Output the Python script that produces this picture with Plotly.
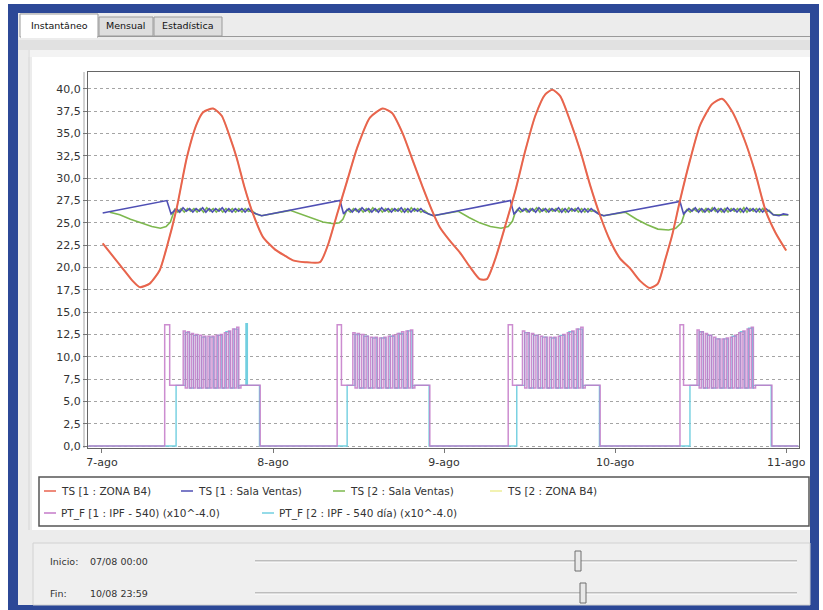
import numpy as np
import plotly.graph_objects as go

# ---------------- data ----------------
DAY_TICKS_H = [0, 24, 48, 72, 96]
DAY_LABELS = ["7-ago", "8-ago", "9-ago", "10-ago", "11-ago"]
Y_TICKS = [0.0, 2.5, 5.0, 7.5, 10.0, 12.5, 15.0, 17.5, 20.0, 22.5, 25.0, 27.5,
           30.0, 32.5, 35.0, 37.5, 40.0]
Y_LABELS = ["0,0", "2,5", "5,0", "7,5", "10,0", "12,5", "15,0", "17,5", "20,0",
            "22,5", "25,0", "27,5", "30,0", "32,5", "35,0", "37,5", "40,0"]

SERIES_NAMES = ["TS [1 : ZONA B4)", "TS [1 : Sala Ventas)", "TS [2 : Sala Ventas)",
                "TS [2 : ZONA B4)", "PT_F [1 : IPF - 540) (x10^-4.0)",
                "PT_F [2 : IPF - 540 día) (x10^-4.0)"]

# TS [1 : ZONA B4]  (hours from 7-ago 00:00)
RED_H = [0.1, 1.8, 3.0, 4.3, 5.3, 6.7, 8.1, 9.1, 10.5, 11.9, 13.3, 14.2, 15.6, 16.8,
         18.0, 18.9, 20.0, 21.2, 22.6, 24.3, 25.7, 26.8, 28.5, 30.6, 31.7, 33.0,
         34.4, 35.8, 37.6, 39.4, 40.7, 42.2, 43.6, 45.0, 46.3, 47.4, 48.8, 50.2,
         51.6, 53.0, 54.0, 55.2, 56.6, 58.0, 59.4, 60.8, 62.2, 63.2, 64.3, 65.7,
         67.1, 68.5, 69.9, 71.3, 72.7, 74.1, 75.5, 76.9, 78.0, 79.0, 80.0, 81.1,
         82.5, 83.9, 85.6, 87.0, 88.4, 90.2, 91.6, 93.1, 94.5, 96.0]
RED_V = [22.7, 21.0, 19.8, 18.5, 17.8, 18.2, 19.7, 22.3, 26.7, 32.3, 36.1, 37.4, 37.8, 37.0,
         34.5, 32.3, 29.0, 26.0, 23.4, 22.0, 21.3, 20.8, 20.6, 20.6, 22.5, 26.0,
         29.7, 33.4, 36.8, 37.8, 37.3, 35.0, 32.0, 29.0, 26.4, 24.5, 23.0, 21.7,
         20.1, 18.7, 18.7, 21.0, 24.7, 28.6, 33.1, 37.0, 39.4, 39.9, 39.2, 36.4,
         33.1, 29.2, 25.8, 23.0, 21.0, 19.9, 18.5, 17.7, 18.2, 20.8, 23.6, 27.5,
         32.0, 35.9, 38.3, 38.9, 37.5, 34.2, 30.8, 26.4, 23.9, 21.9]

# TS [1 : Sala Ventas]
BLUE_KNOT_H = [[0.1, 9.1, 9.7], [21.6, 22.4, 33.4, 33.9], [45.8, 46.5, 57.3, 57.8],
               [69.7, 70.4, 81.1, 81.6], [94.2, 95.0, 95.6, 96.3]]
BLUE_KNOT_V = [[26.1, 27.5, 26.0], [26.0, 25.8, 27.5, 26.0], [26.0, 25.8, 27.5, 26.0],
               [26.0, 25.8, 27.4, 26.0], [25.9, 25.8, 26.0, 25.9]]
BLUE_OSC_WIN = [(10.0, 21.0), (34.2, 45.2), (58.1, 69.1), (81.9, 93.6)]
BLUE_OSC = [
    [26.2, 26.6, 26.2, 26.7, 26.3, 26.6, 26.2, 26.6, 26.3, 26.7, 26.2, 26.6, 26.2,
     26.6, 26.3, 26.7, 26.2, 26.6, 26.2, 26.6, 26.3, 26.6, 26.2, 26.6, 26.2],
    [26.3, 26.6, 26.2, 26.6, 26.2, 26.7, 26.3, 26.6, 26.2, 26.6, 26.2, 26.7, 26.3,
     26.6, 26.2, 26.6, 26.3, 26.7, 26.2, 26.6, 26.2, 26.6, 26.3, 26.6, 26.2],
    [26.2, 26.7, 26.3, 26.6, 26.2, 26.6, 26.2, 26.7, 26.3, 26.6, 26.2, 26.6, 26.3,
     26.7, 26.2, 26.6, 26.2, 26.6, 26.3, 26.7, 26.2, 26.6, 26.2, 26.6, 26.3],
    [26.2, 26.6, 26.3, 26.7, 26.2, 26.6, 26.2, 26.6, 26.3, 26.7, 26.2, 26.6, 26.2,
     26.7, 26.3, 26.6, 26.2, 26.6, 26.2, 26.7, 26.3, 26.6, 26.2, 26.6, 26.2, 26.6, 26.3],
]

# TS [2 : Sala Ventas]
GREEN_KNOT_H = [[1.1, 2.5, 4.0, 5.5, 7.0, 8.2, 9.0, 9.6, 10.0],
                [21.6, 22.4, 26.4, 27.8, 29.5, 31.0, 32.5, 33.3, 33.8, 34.2],
                [45.8, 46.5, 50.0, 51.5, 53.0, 54.5, 56.0, 57.0, 57.6, 58.0],
                [69.7, 70.4, 73.4, 75.0, 76.5, 78.0, 79.5, 80.5, 81.3, 81.8],
                [94.2, 96.3]]
GREEN_KNOT_V = [[26.2, 25.9, 25.4, 25.0, 24.6, 24.4, 24.6, 25.1, 26.2],
                [26.0, 25.8, 26.4, 26.0, 25.5, 25.1, 24.9, 25.0, 25.4, 26.2],
                [26.0, 25.8, 26.3, 25.6, 25.0, 24.6, 24.4, 24.6, 25.2, 26.2],
                [26.0, 25.8, 26.2, 25.4, 24.8, 24.3, 24.2, 24.4, 25.0, 26.2],
                [25.9, 25.9]]
GREEN_OSC_WIN = [(10.2, 21.0), (34.4, 45.2), (58.3, 69.1), (82.1, 93.6)]
GREEN_OSC = [
    [26.5, 26.2, 26.6, 26.2, 26.6, 26.3, 26.6, 26.2, 26.6, 26.2, 26.7, 26.3, 26.6,
     26.2, 26.6, 26.2, 26.6, 26.3, 26.6, 26.2, 26.6, 26.2, 26.6, 26.3, 26.4],
    [26.5, 26.2, 26.6, 26.3, 26.6, 26.2, 26.6, 26.2, 26.7, 26.3, 26.6, 26.2, 26.6,
     26.2, 26.6, 26.3, 26.6, 26.2, 26.6, 26.2, 26.7, 26.3, 26.6, 26.2, 26.4],
    [26.5, 26.2, 26.6, 26.2, 26.6, 26.3, 26.7, 26.2, 26.6, 26.2, 26.6, 26.3, 26.6,
     26.2, 26.6, 26.2, 26.7, 26.3, 26.6, 26.2, 26.6, 26.2, 26.6, 26.3, 26.4],
    [26.5, 26.2, 26.6, 26.3, 26.6, 26.2, 26.6, 26.2, 26.7, 26.3, 26.6, 26.2, 26.6,
     26.2, 26.6, 26.3, 26.6, 26.2, 26.7, 26.2, 26.6, 26.3, 26.6, 26.2, 26.6, 26.2, 26.4],
]

# PT_F [1 : IPF - 540]  (x10^-4)
PT_START_H = -1.9
PT_END_H = 97.7
PT1_ON = [8.8, 33.0, 57.0, 81.1]
PT1_LEVEL_AT = [9.5, 33.6, 57.6, 81.6]
PT_SPIKE_WIN = [(11.4, 19.2), (35.2, 43.6), (59.0, 67.5), (83.5, 91.4)]
PT_OFF = [22.2, 46.0, 69.9, 94.0]
PT1_TOPS = [
    [12.9, 12.8, 12.6, 12.5, 12.4, 12.3, 12.3, 12.3, 12.4, 12.5, 12.7, 12.9, 13.1, 13.3],
    [12.7, 12.6, 12.5, 12.3, 12.2, 12.2, 12.1, 12.2, 12.3, 12.4, 12.6, 12.8, 12.9, 13.0],
    [12.9, 12.7, 12.6, 12.4, 12.3, 12.2, 12.2, 12.2, 12.3, 12.5, 12.7, 12.9, 13.1, 13.3],
    [13.0, 12.8, 12.6, 12.4, 12.2, 12.0, 12.0, 12.1, 12.2, 12.4, 12.7, 12.9, 13.1, 13.3],
]
PT_PEAK = 13.6
PT_LEVEL = 6.8
PT_LOW = 6.5

# PT_F [2 : IPF - 540 día]
PT2_ON = [10.4, 34.4, 58.2, 82.5]
PT2_TOPS = [
    [12.7, 12.4, 12.2, 12.2, 12.4, 12.8, 13.1],
    [12.5, 12.3, 12.1, 12.1, 12.3, 12.6, 12.9],
    [12.7, 12.4, 12.2, 12.1, 12.4, 12.8, 13.1],
    [12.8, 12.4, 12.0, 12.0, 12.3, 12.8, 13.2],
]
PT2_EXTRA_SPIKE = [20.2, None, None, None]


# ---------------- build series ----------------
def build_with_osc(knot_h, knot_v, osc_win, osc_vals):
    xs, ys = [], []
    for i in range(len(knot_h)):
        xs += knot_h[i]
        ys += knot_v[i]
        if i < len(osc_win):
            t0, t1 = osc_win[i]
            xs += list(np.linspace(t0, t1, len(osc_vals[i])))
            ys += osc_vals[i]
    return xs, ys


blue_x, blue_y = build_with_osc(BLUE_KNOT_H, BLUE_KNOT_V, BLUE_OSC_WIN, BLUE_OSC)
green_x, green_y = build_with_osc(GREEN_KNOT_H, GREEN_KNOT_V, GREEN_OSC_WIN, GREEN_OSC)

pt1_x, pt1_y = [PT_START_H], [0.0]
for c in range(4):
    pt1_x += [PT1_ON[c], PT1_LEVEL_AT[c]]
    pt1_y += [PT_PEAK, PT_LEVEL]
    s0, s1 = PT_SPIKE_WIN[c]
    tops = PT1_TOPS[c]
    ts = np.linspace(s0, s1, 2 * len(tops))
    for k, v in enumerate(tops):
        pt1_x += [ts[2 * k], ts[2 * k + 1]]
        pt1_y += [v, PT_LOW]
    pt1_x += [s1 + 0.3, PT_OFF[c]]
    pt1_y += [PT_LEVEL, 0.0]
pt1_x += [PT_END_H]
pt1_y += [0.0]

pt2_x, pt2_y = [PT_START_H], [0.0]
for c in range(4):
    pt2_x += [PT2_ON[c]]
    pt2_y += [PT_LEVEL]
    s0, s1 = PT_SPIKE_WIN[c]
    tops = PT2_TOPS[c]
    ts = np.linspace(s0 + 0.3, s1 - 0.1, 2 * len(tops))
    for k, v in enumerate(tops):
        pt2_x += [ts[2 * k], ts[2 * k + 1]]
        pt2_y += [v, PT_LOW]
    pt2_x += [s1]
    pt2_y += [PT_LEVEL]
    if PT2_EXTRA_SPIKE[c] is not None:
        pt2_x += [PT2_EXTRA_SPIKE[c], PT2_EXTRA_SPIKE[c] + 0.2]
        pt2_y += [PT_PEAK + 0.1, PT_LEVEL]
    pt2_x += [PT_OFF[c] - 0.1]
    pt2_y += [0.0]
pt2_x += [PT_END_H]
pt2_y += [0.0]

COLORS = ["#e8634f", "#4f4fb4", "#7db84e", "#eeee99", "#c47ac8", "#72cfe0"]

fig = go.Figure()
fig.add_trace(go.Scatter(x=RED_H, y=RED_V, mode="lines", name=SERIES_NAMES[3],
                         line=dict(color=COLORS[3], width=1.5, shape="spline", smoothing=0.6)))
fig.add_trace(go.Scatter(x=green_x, y=green_y, mode="lines", name=SERIES_NAMES[2],
                         line=dict(color=COLORS[2], width=1.6)))
fig.add_trace(go.Scatter(x=blue_x, y=blue_y, mode="lines", name=SERIES_NAMES[1],
                         line=dict(color=COLORS[1], width=1.6)))
fig.add_trace(go.Scatter(x=RED_H, y=RED_V, mode="lines", name=SERIES_NAMES[0],
                         line=dict(color=COLORS[0], width=2, shape="spline", smoothing=0.6)))
fig.add_trace(go.Scatter(x=pt2_x, y=pt2_y, mode="lines", name=SERIES_NAMES[5],
                         line=dict(color=COLORS[5], width=1.4, shape="hv")))
fig.add_trace(go.Scatter(x=pt1_x, y=pt1_y, mode="lines", name=SERIES_NAMES[4],
                         line=dict(color=COLORS[4], width=1.5, shape="hv"), opacity=0.85))

# ---------------- layout / UI chrome ----------------
L, R, T, B = 88, 799, 72, 448
W, H = 823, 610


def fx(p):
    return (p - L) / (R - L)


def fy(p):
    return (B - p) / (B - T)


shapes = []


def rect(x0, y0, x1, y1, fill, line=None, lw=1, layer="below"):
    shapes.append(dict(type="rect", xref="paper", yref="paper", x0=fx(x0), x1=fx(x1),
                       y0=fy(y1), y1=fy(y0), fillcolor=fill, layer=layer,
                       line=dict(color=line or "rgba(0,0,0,0)", width=lw if line else 0)))


def hline(x0, x1, y, color, lw=1, layer="below"):
    shapes.append(dict(type="line", xref="paper", yref="paper", x0=fx(x0), x1=fx(x1),
                       y0=fy(y), y1=fy(y), layer=layer, line=dict(color=color, width=lw)))


def vline(x, y0, y1, color, lw=1, layer="below"):
    shapes.append(dict(type="line", xref="paper", yref="paper", x0=fx(x), x1=fx(x),
                       y0=fy(y0), y1=fy(y1), layer=layer, line=dict(color=color, width=lw)))


# blue window frame and gray panel
rect(8, 4, 819, 612, "#2c4897")
rect(18, 13, 810, 605, "#ececec")
# tabs
rect(99, 17, 153, 36, "#dedede", "#9a9a9a")
rect(154, 17, 222, 36, "#dedede", "#9a9a9a")
hline(98, 810, 36.5, "#9a9a9a")
rect(20, 14, 98, 37, "#ffffff", "#9a9a9a")
hline(21, 97, 37, "#ffffff", 2)
# strip under the tabs
rect(18, 40, 810, 50, "#e1e1e1")
rect(28, 50, 810, 57, "#f3f3f3")
# white chart canvas
rect(32, 57, 810, 530, "#ffffff")
vline(29, 50, 530, "#d6d6d6")
# axis shadow line
vline(84, T, B, "#a8a8a8")
# legend box
rect(39, 477, 809, 526, "#ffffff", "#555555", 1.5)
# bottom slider panel
rect(33, 543, 810, 605, "#efefef", "#d2d2d2")
for ty, thumb_x in [(561, 578), (593, 583)]:
    hline(255, 797, ty, "#8a8a8a", 1)
    hline(255, 797, ty + 1, "#ffffff", 1)
    shapes.append(dict(type="rect", xref="paper", yref="paper",
                       x0=fx(thumb_x - 3), x1=fx(thumb_x + 3),
                       y0=fy(ty + 10), y1=fy(ty - 10), fillcolor="#e9e9e9",
                       line=dict(color="#6e6e6e", width=1), layer="above"))

annotations = []


def text(x, y, s, size=11, color="#2a2a2a", anchor="left", bold=False):
    annotations.append(dict(x=fx(x), y=fy(y), xref="paper", yref="paper",
                            text=("<b>%s</b>" % s) if bold else s, showarrow=False,
                            xanchor=anchor, yanchor="middle",
                            font=dict(family="DejaVu Sans", size=size, color=color)))


text(59, 25, "Instantâneo", 9.5, "#111111", "center")
text(126, 26, "Mensual", 9.5, "#111111", "center")
text(188, 26, "Estadística", 9.5, "#111111", "center")

# legend entries (manual)
LEG_POS = [(44, 491), (181, 491), (333, 491), (490, 491), (44, 513), (262, 513)]
for i, (lx, ly) in enumerate(LEG_POS):
    hline(lx, lx + 12, ly, COLORS[i], 1.5, "above")
    text(lx + 15, ly, SERIES_NAMES[i], 10.5, "#333333")

text(48, 561, "Inicio:", 9.5, "#333333")
text(88, 561, "07/08 00:00", 9.5, "#333333")
text(48, 593, "Fin:", 9.5, "#333333")
text(88, 593, "10/08 23:59", 9.5, "#333333")

fig.update_layout(
    width=W, height=H,
    margin=dict(l=L, r=W - R, t=T, b=H - B, pad=0),
    paper_bgcolor="#ffffff",
    plot_bgcolor="rgba(0,0,0,0)",
    showlegend=False,
    shapes=shapes,
    annotations=annotations,
    xaxis=dict(range=[-1.96, 97.8], tickvals=DAY_TICKS_H, ticktext=DAY_LABELS,
               showgrid=False, zeroline=False, ticks="outside", ticklen=4,
               tickcolor="#777777", showline=True, mirror=True, linecolor="#666666",
               linewidth=1, tickfont=dict(family="DejaVu Sans", size=11, color="#333333")),
    yaxis=dict(range=[-0.22, 41.9], tickvals=Y_TICKS, ticktext=Y_LABELS,
               showgrid=True, gridcolor="#a4a4a4", griddash="dot", gridwidth=1,
               zeroline=False, ticks="outside", ticklen=4, tickcolor="#777777",
               showline=True, mirror=True, linecolor="#666666", linewidth=1,
               tickfont=dict(family="DejaVu Sans", size=11, color="#333333")),
)

fig.write_html("out.html")
